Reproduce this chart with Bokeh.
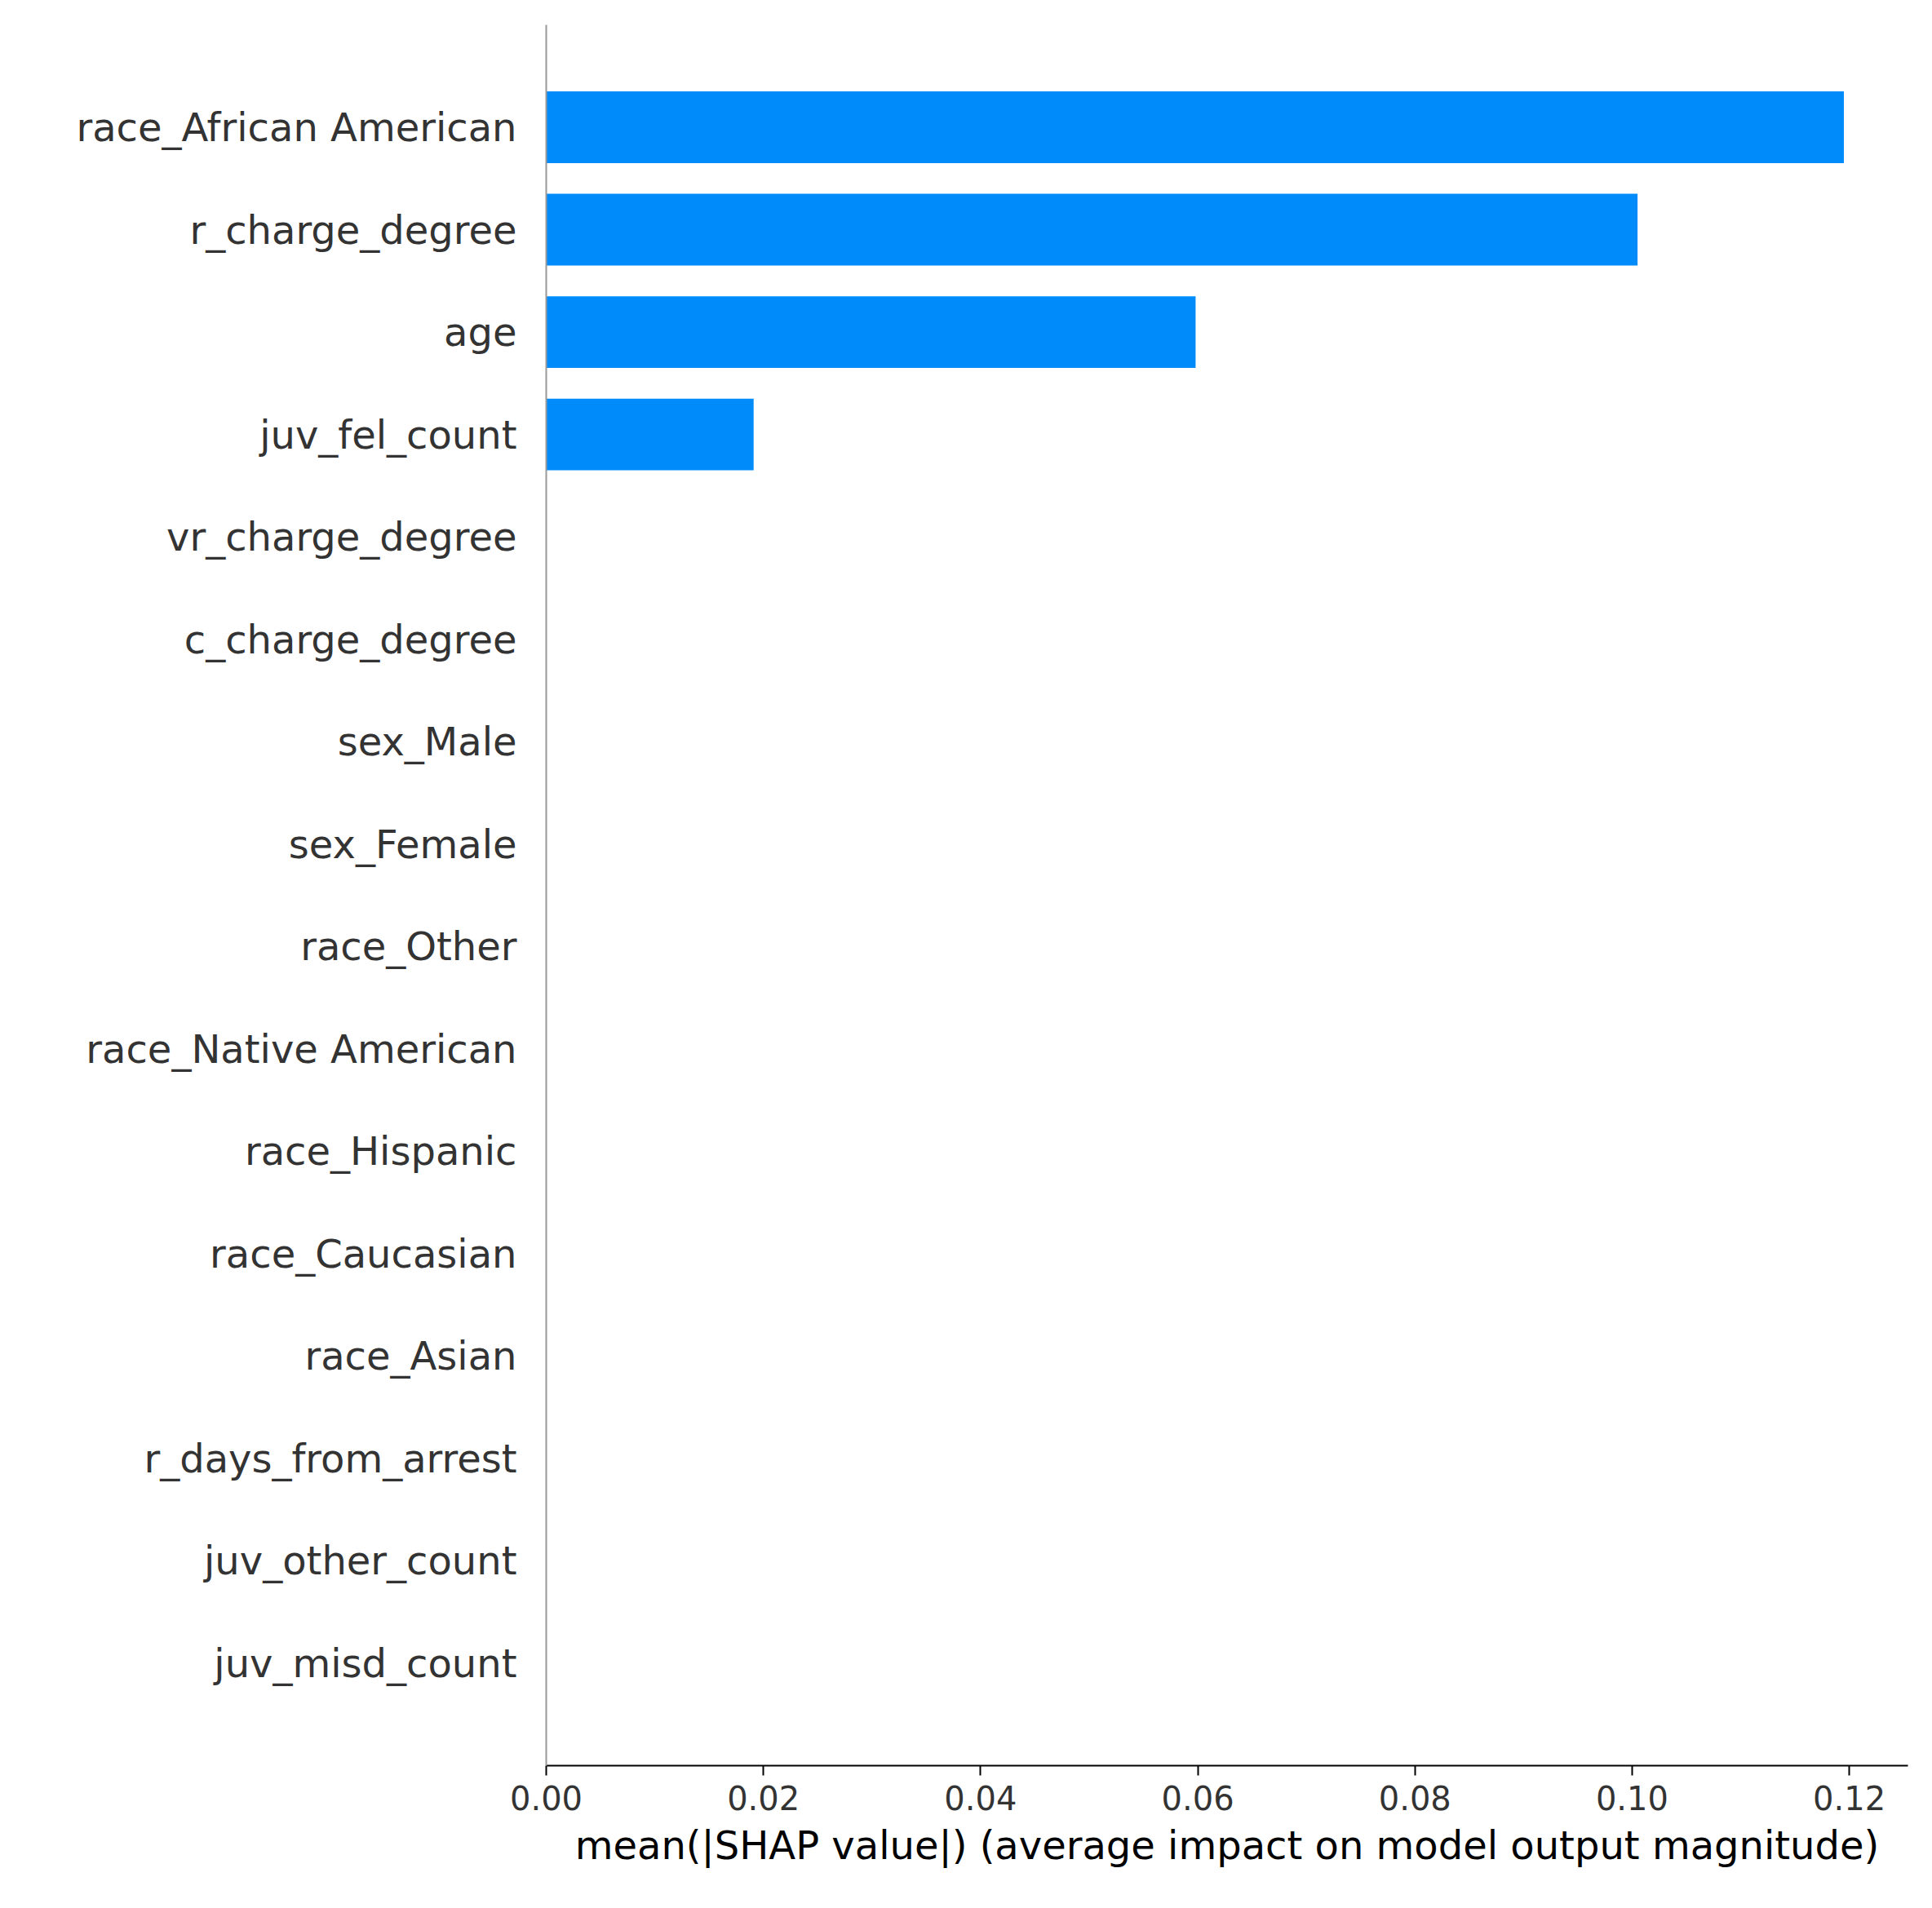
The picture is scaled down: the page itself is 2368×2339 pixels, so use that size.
import numpy as np
from bokeh.plotting import figure
from bokeh.models import Range1d, FixedTicker
from bokeh.embed import file_html
from bokeh.resources import INLINE

features = ["race_African American", "r_charge_degree", "age", "juv_fel_count",
            "vr_charge_degree", "c_charge_degree", "sex_Male", "sex_Female",
            "race_Other", "race_Native American", "race_Hispanic", "race_Caucasian",
            "race_Asian", "r_days_from_arrest", "juv_other_count", "juv_misd_count"]
shap_vals = [0.1195, 0.1005, 0.0598, 0.0191, 0, 0, 0, 0, 0, 0, 0, 0, 0, 0, 0, 0]
xticks = [0.0, 0.02, 0.04, 0.06, 0.08, 0.10, 0.12]

n = len(features)
ypos = list(range(n - 1, -1, -1))

p = figure(output_backend="svg", toolbar_location=None,
           frame_width=1669, frame_height=2134,
           min_border_left=669, min_border_right=14, min_border_top=30, min_border_bottom=150,
           x_range=Range1d(0, 0.1254), y_range=Range1d(-1, n))
p.grid.grid_line_color = None
p.outline_line_color = None
p.background_fill_color = "white"

p.hbar(y=ypos, right=shap_vals, left=0, height=0.7, fill_color="#008bfb", line_color=None)

p.yaxis.ticker = FixedTicker(ticks=ypos)
p.yaxis.major_label_overrides = {y: f for y, f in zip(ypos, features)}
p.yaxis.major_tick_line_color = None
p.yaxis.minor_tick_line_color = None
p.yaxis.axis_line_color = "#999999"
p.yaxis.axis_line_width = 2
p.yaxis.major_label_text_font = "DejaVu Sans"
p.yaxis.major_label_text_font_size = "48px"
p.yaxis.major_label_text_color = "#333333"
p.yaxis.major_label_standoff = 30

p.xaxis.ticker = FixedTicker(ticks=xticks)
p.xaxis.major_label_overrides = {t: f"{t:.2f}" for t in xticks}
p.xaxis.minor_tick_line_color = None
p.xaxis.axis_line_color = "black"
p.xaxis.axis_line_width = 2
p.xaxis.major_tick_line_color = "black"
p.xaxis.major_tick_line_width = 2
p.xaxis.major_tick_out = 12
p.xaxis.major_tick_in = 0
p.xaxis.major_label_text_font = "DejaVu Sans"
p.xaxis.major_label_text_font_size = "40px"
p.xaxis.major_label_text_color = "#333333"
p.xaxis.major_label_standoff = 12
p.xaxis.axis_label = "mean(|SHAP value|) (average impact on model output magnitude)"
p.xaxis.axis_label_text_font = "DejaVu Sans"
p.xaxis.axis_label_text_font_style = "normal"
p.xaxis.axis_label_text_font_size = "48px"
p.xaxis.axis_label_text_color = "black"
p.xaxis.axis_label_standoff = 12

open("out.html", "w").write(file_html(p, INLINE))
